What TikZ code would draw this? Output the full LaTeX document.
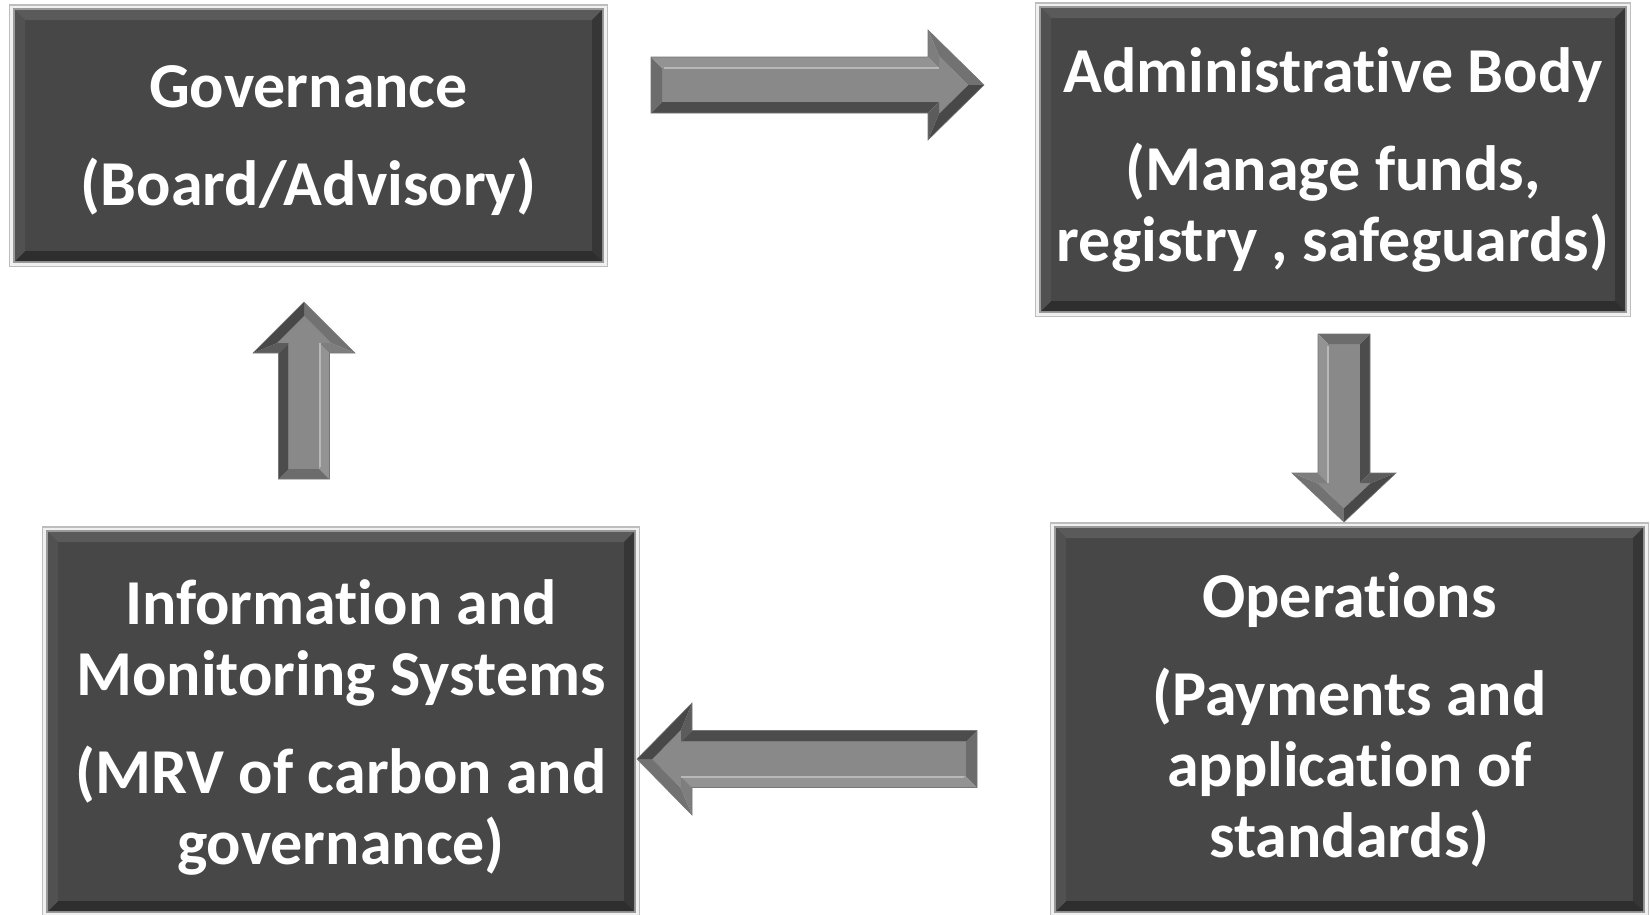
\documentclass[tikz,border=0pt]{standalone}
\usepackage{fontspec}
\setmainfont{Carlito}[Ligatures=NoCommon]
\usetikzlibrary{calc,backgrounds}

% box colours
\definecolor{boxface}{HTML}{474747}
\definecolor{bevtop}{HTML}{5A5A5A}
\definecolor{bevleft}{HTML}{515151}
\definecolor{bevbot}{HTML}{2E2E2E}
\definecolor{bevright}{HTML}{363636}
\definecolor{frameout}{HTML}{BDBDBD}
\definecolor{framemid}{HTML}{F0F0F0}
\definecolor{framein}{HTML}{9A9A9A}
% arrow colours
\definecolor{arface}{HTML}{898989}
\definecolor{arlit}{HTML}{939393}
\definecolor{arhigh}{HTML}{B8B8B8}
\definecolor{ardark}{HTML}{4C4C4C}
\definecolor{artail}{HTML}{6C6C6C}
\definecolor{arbarblit}{HTML}{7E7E7E}
\definecolor{arbarbdark}{HTML}{5C5C5C}
\definecolor{arheadlit}{HTML}{727272}
\definecolor{arheaddark}{HTML}{484848}
\definecolor{aredge}{HTML}{767676}

\tikzset{
  stagebox/.style={rectangle, fill=boxface, inner sep=0pt, text=white,
    font=\fontsize{64}{71}\selectfont\bfseries, align=center,
    path picture={
      \coordinate (pp1) at (path picture bounding box.north west);
      \coordinate (pp2) at (path picture bounding box.north east);
      \coordinate (pp3) at (path picture bounding box.south east);
      \coordinate (pp4) at (path picture bounding box.south west);
      \fill[bevtop] (pp1) -- (pp2) -- ($(pp2)+(-10pt,-10pt)$) -- ($(pp1)+(10pt,-10pt)$) -- cycle;
      \fill[bevright] (pp2) -- (pp3) -- ($(pp3)+(-10pt,10pt)$) -- ($(pp2)+(-10pt,-10pt)$) -- cycle;
      \fill[bevbot] (pp3) -- (pp4) -- ($(pp4)+(10pt,10pt)$) -- ($(pp3)+(-10pt,10pt)$) -- cycle;
      \fill[bevleft] (pp4) -- (pp1) -- ($(pp1)+(10pt,-10pt)$) -- ($(pp4)+(10pt,10pt)$) -- cycle;
    }},
  % bevelled block arrow pointing along local +x:
  % length / shaft half width / head half width / head length / bevel
  pics/barrow/.style args={#1/#2/#3/#4/#5}{code={
    \pgfmathsetmacro\bL{#1}
    \pgfmathsetmacro\bw{#2}
    \pgfmathsetmacro\bh{#3}
    \pgfmathsetmacro\ba{#4}
    \pgfmathsetmacro\bb{#5}
    \pgfmathsetmacro\bx{\bL-\ba}
    \pgfmathsetmacro\bxi{\bx+\bb}
    \pgfmathsetmacro\bwi{\bw-\bb}
    \pgfmathsetmacro\blen{sqrt(\ba*\ba+\bh*\bh)}
    \pgfmathsetmacro\btip{\bL-\bb*\blen/\bh}
    \pgfmathsetmacro\bhi{(\btip-\bxi)*\bh/\ba}
    % face
    \fill[arface] (\bb pt,\bwi pt) -- (\bxi pt,\bwi pt) -- (\bxi pt,\bhi pt) -- (\btip pt,0pt)
      -- (\bxi pt,-\bhi pt) -- (\bxi pt,-\bwi pt) -- (\bb pt,-\bwi pt) -- cycle;
    % tail
    \fill[artail] (0pt,\bw pt) -- (\bb pt,\bwi pt) -- (\bb pt,-\bwi pt) -- (0pt,-\bw pt) -- cycle;
    % shaft sides
    \fill[arlit] (0pt,\bw pt) -- (\bx pt,\bw pt) -- (\bxi pt,\bwi pt) -- (\bb pt,\bwi pt) -- cycle;
    \fill[ardark] (0pt,-\bw pt) -- (\bx pt,-\bw pt) -- (\bxi pt,-\bwi pt) -- (\bb pt,-\bwi pt) -- cycle;
    % barb backs
    \fill[arbarblit] (\bx pt,\bw pt) -- (\bx pt,\bh pt) -- (\bxi pt,\bhi pt) -- (\bxi pt,\bwi pt) -- cycle;
    \fill[arbarbdark] (\bx pt,-\bw pt) -- (\bx pt,-\bh pt) -- (\bxi pt,-\bhi pt) -- (\bxi pt,-\bwi pt) -- cycle;
    % head facets
    \fill[arheadlit] (\bx pt,\bh pt) -- (\bL pt,0pt) -- (\btip pt,0pt) -- (\bxi pt,\bhi pt) -- cycle;
    \fill[arheaddark] (\bx pt,-\bh pt) -- (\bL pt,0pt) -- (\btip pt,0pt) -- (\bxi pt,-\bhi pt) -- cycle;
    % highlight along the lit side
    \draw[arhigh, line width=2pt] (\bb pt+2pt,\bwi pt) -- (\bxi pt,\bwi pt);
    % outline
    \draw[aredge, line width=0.6pt, line join=miter] (0pt,\bw pt) -- (\bx pt,\bw pt) -- (\bx pt,\bh pt)
      -- (\bL pt,0pt) -- (\bx pt,-\bh pt) -- (\bx pt,-\bw pt) -- (0pt,-\bw pt) -- cycle;
  }}
}

% light frame around a box, drawn behind it
\newcommand\stageframe[1]{%
  \begin{scope}[on background layer]
    \fill[frameout] ($(#1.north west)+(-6pt,5.5pt)$) rectangle ($(#1.south east)+(6pt,-6pt)$);
    \fill[framemid] ($(#1.north west)+(-4.5pt,4pt)$) rectangle ($(#1.south east)+(4.5pt,-4.5pt)$);
    \fill[framein] ($(#1.north west)+(-2pt,1.8pt)$) rectangle ($(#1.south east)+(2pt,-2pt)$);
  \end{scope}}

% block arrow from one named point to another
\newcommand\blockarrow[4][]{%
  \pgfpointdiff{\pgfpointanchor{#2}{center}}{\pgfpointanchor{#3}{center}}%
  \pgfgetlastxy\bdx\bdy
  \pgfmathsetmacro\barlen{veclen(\bdx,\bdy)}%
  \pgfmathsetmacro\barang{atan2(\bdy,\bdx)}%
  \path (#2) pic[rotate=\barang,#1] {barrow=\barlen/#4};}

\begin{document}
\begin{tikzpicture}[x=1pt,y=-1pt]
\useasboundingbox (0,0) rectangle (1650,914);
\begin{scope}[on background layer]
  \fill[white] (0,0) rectangle (1650,914);
\end{scope}

\node[stagebox, minimum width=587pt, minimum height=251pt] (gov) at (308.5,135.5)
  {\rule{0pt}{52pt}Governance\\[27pt](Board/Advisory)};
\node[stagebox, minimum width=584pt, minimum height=303pt] (admin) at (1333,159.5)
  {Administrative Body\\[27pt](Manage funds,\\registry , safeguards)};
\node[stagebox, minimum width=587pt, minimum height=383pt] (ops) at (1349.5,719.5)
  {Operations\\[27pt](Payments and\\application of\\standards)};
\node[stagebox, minimum width=586pt, minimum height=379pt] (info) at (341,721.5)
  {\rule{0pt}{56pt}Information and\\Monitoring Systems\\[27pt](MRV of carbon and\\governance)};

\stageframe{gov}
\stageframe{admin}
\stageframe{ops}
\stageframe{info}

% arrow end points
\coordinate (govout) at (651,85);
\coordinate (adminin) at (984,85);
\coordinate (adminout) at (1344,334);
\coordinate (opsin) at (1344,522);
\coordinate (opsout) at (977,759);
\coordinate (infoin) at (637,759);
\coordinate (infoout) at (304,479);
\coordinate (govin) at (304,302);

\blockarrow{govout}{adminin}{28/55/56/11}
\blockarrow[yscale=-1]{adminout}{opsin}{26/52/49/10}
\blockarrow{opsout}{infoin}{28.5/56/55/11}
\blockarrow[yscale=-1]{infoout}{govin}{25.5/51/51/10}
\end{tikzpicture}
\end{document}
